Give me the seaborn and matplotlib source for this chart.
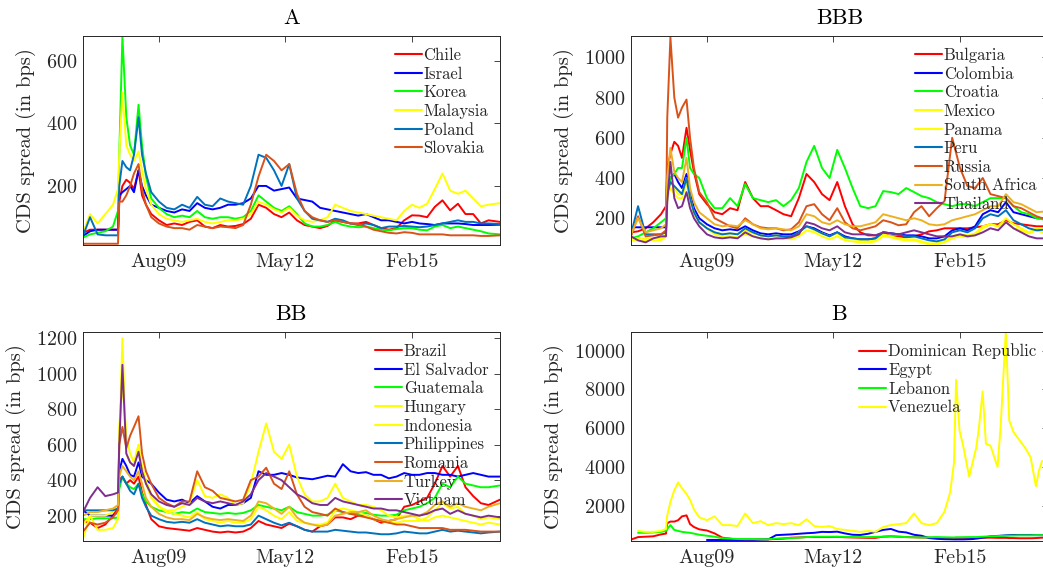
import numpy as np
import pandas as pd
import matplotlib
matplotlib.use("Agg")
import matplotlib.pyplot as plt
import matplotlib.dates as mdates
from matplotlib.lines import Line2D
import seaborn as sns

nan = np.nan

# ---------------- data ----------------
dates = ["2007-12-07", "2008-02-01", "2008-04-01", "2008-06-01", "2008-08-01", "2008-09-10", "2008-09-20", "2008-10-15", "2008-11-15", "2008-12-15",
         "2009-01-15", "2009-02-20", "2009-03-20", "2009-04-20", "2009-06-01", "2009-08-01", "2009-10-01", "2009-12-01", "2010-02-01", "2010-04-01",
         "2010-06-01", "2010-08-01", "2010-10-01", "2010-12-01", "2011-02-01", "2011-04-01", "2011-06-01", "2011-08-01", "2011-10-01", "2011-12-01",
         "2012-02-01", "2012-04-01", "2012-06-01", "2012-08-01", "2012-10-01", "2012-12-01", "2013-02-01", "2013-04-01", "2013-06-01", "2013-08-01",
         "2013-10-01", "2013-12-01", "2014-02-01", "2014-04-01", "2014-06-01", "2014-08-01", "2014-10-01", "2014-12-01", "2015-02-01", "2015-04-01",
         "2015-06-01", "2015-08-01", "2015-10-01", "2015-12-01", "2016-02-01", "2016-04-01", "2016-06-01", "2016-08-01", "2016-10-01", "2016-12-31"]

dates_b = dates[:46] + ["2014-10-01", "2014-11-15", "2014-12-15", "2015-01-01", "2015-01-28", "2015-03-01", "2015-04-15", "2015-05-15",
                        "2015-06-10", "2015-07-01", "2015-07-31", "2015-08-26", "2015-10-01", "2015-11-26", "2015-12-20", "2016-01-31",
                        "2016-02-27", "2016-04-01", "2016-05-16", "2016-07-01", "2016-08-15", "2016-09-26", "2016-10-20", "2016-11-13",
                        "2016-12-31"]

# Panel A
chile = [50, 60, 60, 60, 60, 60, 150, 200, 220, 210,
         190, 250, 170, 140, 110, 90, 75, 80, 75, 85,
         90, 70, 65, 75, 70, 72, 78, 95, 140, 130,
         110, 100, 115, 90, 75, 70, 65, 72, 90, 85,
         80, 80, 85, 75, 65, 60, 65, 90, 106, 105,
         100, 133, 154, 122, 143, 110, 110, 80, 90, 85]
israel = [40, 55, 60, 60, 60, 60, 170, 180, 190, 200,
          180, 250, 200, 170, 140, 130, 120, 115, 125, 120,
          145, 130, 125, 130, 140, 140, 145, 160, 200, 200,
          185, 190, 195, 160, 155, 150, 130, 125, 120, 115,
          110, 105, 110, 100, 90, 90, 85, 80, 85, 80,
          78, 75, 80, 80, 80, 78, 75, 75, 75, 76]
korea = [35, 45, 50, 55, 70, 120, 300, 680, 420, 330,
         300, 460, 330, 230, 160, 130, 110, 100, 105, 100,
         120, 100, 95, 100, 100, 95, 100, 120, 170, 150,
         130, 120, 135, 110, 80, 70, 70, 75, 85, 75,
         70, 68, 70, 65, 60, 58, 62, 65, 65, 60,
         58, 70, 75, 65, 70, 65, 60, 55, 48, 45]
malaysia = [50, 110, 80, 110, 140, 190, 300, 500, 330, 300,
            280, 310, 250, 190, 140, 110, 95, 90, 85, 90,
            95, 85, 80, 85, 90, 90, 95, 110, 150, 140,
            125, 115, 130, 105, 90, 85, 90, 100, 140, 130,
            120, 115, 110, 105, 100, 95, 90, 120, 140, 130,
            143, 190, 240, 185, 175, 185, 160, 135, 140, 145]
poland = [40, 100, 45, 42, 42, 42, 200, 280, 260, 250,
          300, 420, 300, 240, 180, 150, 130, 125, 140, 130,
          165, 140, 135, 160, 150, 145, 140, 200, 300, 290,
          250, 200, 270, 160, 120, 95, 90, 85, 95, 90,
          80, 75, 80, 75, 65, 70, 70, 72, 70, 68,
          70, 75, 80, 85, 90, 85, 85, 80, 80, 78]
slovakia = [15, 15, 15, 15, 15, 15, 150, 150, 170, 200,
            240, 270, 190, 140, 100, 80, 70, 65, 65, 60,
            75, 70, 65, 70, 68, 65, 75, 140, 230, 300,
            280, 250, 270, 175, 120, 100, 90, 85, 90, 85,
            80, 78, 70, 60, 55, 50, 48, 52, 50, 45,
            45, 45, 45, 42, 42, 42, 42, 40, 40, 42]

# Panel BBB
bulgaria = [130, 135, 150, 180, 220, 260, 450, 520, 580, 560,
            500, 650, 540, 430, 320, 270, 230, 220, 250, 240,
            380, 300, 260, 260, 240, 220, 210, 300, 420, 380,
            320, 290, 380, 260, 170, 130, 115, 115, 125, 110,
            110, 105, 110, 120, 135, 140, 150, 150, 150, 150,
            155, 160, 170, 170, 190, 175, 170, 165, 160, 160]
colombia = [155, 155, 155, 155, 155, 155, 350, 400, 420, 380,
            350, 420, 330, 250, 200, 170, 150, 140, 145, 140,
            160, 140, 125, 120, 125, 120, 120, 135, 160, 150,
            130, 115, 130, 110, 100, 95, 95, 100, 130, 125,
            120, 115, 115, 110, 100, 100, 110, 140, 150, 140,
            160, 220, 240, 230, 280, 230, 220, 210, 200, 200]
croatia = [100, 110, 130, 150, 180, 200, 350, 400, 420, 450,
           450, 600, 450, 420, 400, 300, 250, 250, 300, 260,
           370, 300, 290, 280, 290, 260, 290, 350, 480, 560,
           450, 400, 540, 450, 350, 260, 250, 260, 335, 330,
           320, 350, 330, 310, 300, 280, 270, 260, 270, 270,
           260, 280, 300, 300, 300, 260, 230, 220, 200, 190]
mexico = [100, 100, 100, 100, 100, 120, 300, 380, 350, 320,
          320, 400, 300, 230, 180, 150, 130, 120, 125, 120,
          140, 125, 115, 110, 115, 110, 105, 130, 160, 140,
          125, 110, 125, 100, 95, 90, 85, 90, 120, 110,
          100, 95, 95, 85, 75, 75, 85, 110, 120, 115,
          125, 160, 170, 160, 180, 150, 140, 125, 140, 120]
panama = [90, 90, 90, 90, 90, 110, 300, 350, 320, 300,
          300, 380, 290, 220, 180, 150, 120, 110, 110, 105,
          120, 110, 100, 95, 100, 100, 95, 110, 140, 130,
          110, 95, 110, 90, 85, 80, 80, 85, 110, 105,
          95, 90, 90, 80, 70, 70, 80, 100, 110, 105,
          115, 150, 170, 160, 200, 170, 150, 130, 150, 140]
peru = [120, 260, 120, 120, 120, 130, 320, 380, 360, 340,
        320, 400, 300, 230, 180, 150, 130, 120, 125, 120,
        150, 130, 115, 110, 115, 110, 110, 130, 160, 145,
        125, 110, 130, 105, 100, 95, 95, 100, 130, 125,
        120, 110, 110, 100, 90, 85, 95, 130, 140, 130,
        150, 200, 220, 210, 240, 190, 170, 150, 140, 145]
russia = [110, 210, 110, 115, 120, 140, 700, 1100, 800, 700,
          750, 790, 600, 450, 330, 280, 200, 180, 160, 150,
          200, 170, 155, 150, 150, 140, 145, 180, 260, 270,
          220, 190, 250, 180, 150, 140, 150, 160, 190, 180,
          165, 170, 230, 260, 210, 250, 285, 600, 450, 360,
          350, 400, 320, 310, 300, 260, 250, 230, 210, 190]
south_africa = [120, 200, 130, 140, 150, 170, 400, 550, 430, 400,
                380, 500, 350, 280, 230, 200, 170, 160, 165, 160,
                190, 170, 150, 145, 150, 145, 140, 160, 220, 210,
                180, 170, 190, 170, 160, 160, 170, 180, 220, 210,
                200, 190, 200, 190, 170, 165, 170, 190, 200, 210,
                220, 240, 260, 260, 320, 280, 270, 250, 230, 235]
thailand = [110, 90, 80, 100, 110, 110, 280, 480, 300, 250,
            260, 330, 250, 200, 160, 120, 105, 100, 105, 100,
            130, 110, 100, 95, 100, 100, 105, 120, 180, 170,
            150, 140, 160, 130, 120, 120, 120, 115, 130, 125,
            120, 130, 140, 130, 120, 110, 110, 110, 120, 110,
            115, 130, 150, 140, 180, 150, 130, 110, 100, 100]

# Panel BB
brazil = [170, 160, 130, 150, 200, 250, 400, 420, 380, 400,
          380, 420, 330, 260, 180, 140, 130, 125, 120, 115,
          130, 120, 110, 105, 110, 105, 110, 130, 170, 150,
          140, 130, 155, 140, 120, 110, 140, 150, 190, 190,
          180, 200, 200, 180, 160, 170, 180, 250, 260, 280,
          300, 380, 480, 420, 480, 360, 310, 270, 260, 290]
el_salvador = [230, 200, 200, 200, 200, 220, 450, 520, 480, 430,
               420, 500, 420, 400, 380, 330, 290, 280, 290, 270,
               310, 280, 250, 240, 260, 260, 270, 300, 450, 430,
               430, 440, 430, 415, 410, 405, 415, 425, 420, 490,
               450, 440, 445, 430, 430, 410, 420, 440, 430, 430,
               440, 440, 430, 430, 420, 430, 440, 430, 420, 420]
guatemala = [180, 180, 185, 185, 185, 190, 350, 420, 380, 360,
             350, 380, 320, 280, 250, 230, 220, 210, 220, 215,
             240, 220, 215, 210, 215, 210, 215, 230, 260, 250,
             240, 230, 250, 220, 210, 200, 200, 205, 230, 220,
             210, 210, 215, 205, 200, 200, 205, 230, 240, 250,
             270, 300, 380, 360, 420, 380, 370, 360, 360, 370]
hungary = [70, 200, 120, 120, 130, 180, 600, 1200, 550, 500,
           480, 600, 450, 380, 300, 250, 230, 230, 250, 270,
           400, 310, 300, 320, 300, 260, 270, 380, 560, 720,
           560, 520, 600, 420, 320, 280, 280, 300, 380, 300,
           280, 260, 260, 250, 230, 200, 190, 200, 200, 180,
           170, 190, 200, 190, 180, 170, 160, 150, 160, 150]
indonesia = [150, 200, 200, 200, 220, 260, 700, 950, 650, 550,
             500, 600, 480, 400, 320, 250, 220, 210, 200, 190,
             220, 180, 170, 160, 170, 160, 160, 180, 250, 230,
             200, 180, 220, 170, 160, 150, 150, 160, 230, 240,
             230, 220, 200, 180, 170, 160, 160, 170, 170, 170,
             190, 230, 270, 240, 250, 210, 200, 180, 190, 180]
philippines = [230, 230, 230, 230, 230, 240, 380, 420, 380, 340,
               320, 380, 300, 250, 200, 180, 165, 160, 165, 160,
               180, 160, 150, 140, 145, 140, 140, 150, 200, 180,
               160, 145, 160, 140, 120, 110, 110, 110, 120, 115,
               110, 105, 105, 100, 95, 95, 100, 110, 105, 100,
               100, 110, 120, 110, 115, 110, 105, 100, 105, 110]
romania = [110, 160, 150, 160, 190, 230, 600, 700, 580, 650,
           700, 760, 550, 450, 380, 300, 270, 250, 280, 280,
           450, 360, 340, 300, 290, 280, 290, 400, 420, 470,
           380, 350, 450, 320, 250, 220, 210, 200, 240, 220,
           210, 200, 190, 180, 170, 160, 150, 150, 140, 130,
           130, 130, 130, 120, 120, 120, 115, 110, 110, 110]
turkey = [200, 220, 220, 230, 240, 260, 420, 480, 450, 420,
          400, 450, 380, 300, 250, 210, 190, 180, 180, 175,
          210, 190, 180, 175, 180, 175, 170, 200, 280, 270,
          240, 210, 250, 190, 160, 150, 140, 150, 200, 210,
          220, 220, 230, 200, 180, 170, 180, 190, 200, 200,
          220, 260, 280, 250, 270, 250, 240, 230, 250, 270]
vietnam = [220, 300, 360, 310, 320, 330, 600, 1050, 550, 500,
           480, 560, 450, 380, 320, 280, 260, 250, 270, 260,
           300, 280, 270, 280, 270, 260, 280, 320, 400, 440,
           420, 400, 360, 320, 300, 270, 260, 260, 300, 280,
           270, 260, 250, 240, 240, 230, 230, 220, 210, 200,
           210, 230, 240, 210, 230, 210, 200, 190, 200, 190]

# Panel B (on dates_b)
dominican = [250, 380, 400, 420, 520, 560, 1100, 1180, 1180, 1250,
             1450, 1500, 1050, 900, 780, 720, 570, 350, 300, 250,
             250, 250, 260, 260, 280, 300, 350, 360, 380, 380,
             380, 380, 390, 370, 360, 350, 340, 340, 400, 420,
             400, 380, 370, 360, 350, 340,
             330, 330, 330, 340, 340, 340, 340, 340, 340, 350,
             350, 350, 350, 340, 340, 340, 330, 330, 320, 320,
             320, 330, 340, 350, 350]
egypt = [nan] * 15 + [230, 230, 230, 230, 230, 240, 240, 250, 260, 480,
                      500, 520, 550, 580, 600, 650, 640, 660, 570, 500,
                      490, 550, 650, 750, 800, 660, 620, 500, 450, 330, 290,
                      270, 265, 260, 260, 260, 260, 270, 280, 300, 320,
                      350, 370, 420, 440, 450, 470, 480, 490, 490, 490,
                      490, 480, 480, 480, 480]
lebanon = [nan, 600, 600, 620, 650, 700, 800, 1000, 750, 700,
           650, 620, 600, 560, 500, 450, 400, 320, 300, 280,
           280, 280, 270, 270, 300, 320, 330, 350, 380, 400,
           400, 400, 400, 390, 380, 380, 380, 390, 400, 420,
           400, 380, 370, 360, 370, 380,
           370, 365, 360, 370, 370, 375, 380, 380, 380, 390,
           400, 410, 420, 430, 440, 450, 455, 460, 470, 470,
           470, 480, 480, 480, 480]
venezuela = [nan, 700, 650, 650, 700, 800, 1500, 2200, 2800, 3200,
             2900, 2600, 2300, 1800, 1400, 1250, 1450, 1000, 1000, 950,
             1600, 1100, 1200, 1000, 1100, 1050, 1100, 1000, 1300, 950,
             900, 950, 800, 750, 700, 650, 700, 650, 900, 1000,
             1050, 1100, 1600, 1100, 1000, 1100,
             1700, 2700, 4200, 8500, 5900, 5000, 3500, 4300, 5000, 6000,
             7900, 5200, 5100, 4000, 6000, 11000, 6400, 5800, 5400, 5000,
             4500, 3000, 3800, 4300, 4300]

# ---------------- style ----------------
RED, BLUE, GREEN, YELLOW = "#ff0000", "#0000ff", "#00ff00", "#ffff00"
MBLUE, MORANGE, MGOLD, MPURPLE = "#0072bd", "#d95319", "#edb120", "#7e2f8e"
AXC = "#262626"

sns.set_theme(style="white")
plt.rcParams.update({
    "font.family": ["cmr10", "DejaVu Serif"],
    "axes.formatter.use_mathtext": True,
    "mathtext.fontset": "cm",
    "axes.unicode_minus": False,
})

panels = [
    dict(title="A", dates=dates,
         names=["Chile", "Israel", "Korea", "Malaysia", "Poland", "Slovakia"],
         values=[chile, israel, korea, malaysia, poland, slovakia],
         colors=[RED, BLUE, GREEN, YELLOW, MBLUE, MORANGE],
         ylim=(11, 680), yticks=[200, 400, 600],
         pos=[83, 36]),
    dict(title="BBB", dates=dates,
         names=["Bulgaria", "Colombia", "Croatia", "Mexico", "Panama", "Peru", "Russia", "South Africa", "Thailand"],
         values=[bulgaria, colombia, croatia, mexico, panama, peru, russia, south_africa, thailand],
         colors=[RED, BLUE, GREEN, YELLOW, YELLOW, MBLUE, MORANGE, MGOLD, MPURPLE],
         ylim=(67, 1106), yticks=[200, 400, 600, 800, 1000],
         pos=[631, 36]),
    dict(title="BB", dates=dates,
         names=["Brazil", "El Salvador", "Guatemala", "Hungary", "Indonesia", "Philippines", "Romania", "Turkey", "Vietnam"],
         values=[brazil, el_salvador, guatemala, hungary, indonesia, philippines, romania, turkey, vietnam],
         colors=[RED, BLUE, GREEN, YELLOW, YELLOW, MBLUE, MORANGE, MGOLD, MPURPLE],
         ylim=(57, 1235), yticks=[200, 400, 600, 800, 1000, 1200],
         pos=[83, 332]),
    dict(title="B", dates=dates_b,
         names=["Dominican Republic", "Egypt", "Lebanon", "Venezuela"],
         values=[dominican, egypt, lebanon, venezuela],
         colors=[RED, BLUE, GREEN, YELLOW],
         ylim=(178, 10965), yticks=[2000, 4000, 6000, 8000, 10000],
         pos=[631, 332]),
]

W, H = 1043, 574
fig = plt.figure(figsize=(W / 100, H / 100), dpi=100)
fig.patch.set_facecolor("white")

xmin, xmax = pd.Timestamp("2007-12-07"), pd.Timestamp("2016-12-31")
xticks = [pd.Timestamp("2009-08-01"), pd.Timestamp("2012-05-01"), pd.Timestamp("2015-02-01")]

for p in panels:
    x0, y0 = p["pos"]
    ax = fig.add_axes([x0 / W, 1 - (y0 + 209) / H, 417 / W, 209 / H])
    frames = []
    for name, vals in zip(p["names"], p["values"]):
        frames.append(pd.DataFrame({"date": pd.to_datetime(p["dates"]), "value": vals, "country": name}))
    df = pd.concat(frames, ignore_index=True).dropna()
    pal = dict(zip(p["names"], p["colors"]))
    sns.lineplot(data=df, x="date", y="value", hue="country", hue_order=p["names"],
                 palette=pal, estimator=None, linewidth=1.4, legend=False, ax=ax)
    ax.set_xlim(xmin, xmax)
    ax.set_ylim(*p["ylim"])
    ax.set_yticks(p["yticks"])
    ax.set_xticks(xticks)
    ax.xaxis.set_major_formatter(mdates.DateFormatter("%b%y"))
    ax.set_xlabel("")
    ax.set_ylabel("CDS spread (in bps)", fontsize=14.8, color=AXC, labelpad=7)
    ax.set_title(p["title"], fontsize=16, color="black", pad=9)
    ax.tick_params(direction="in", length=4, width=0.6, top=True, right=True,
                   labelsize=14.5, pad=4, colors=AXC)
    ax.tick_params(axis="x", pad=6)
    for s in ax.spines.values():
        s.set_color(AXC)
        s.set_linewidth(0.7)
    ax.grid(False)
    handles = [Line2D([0], [0], color=c, lw=1.5) for c in p["colors"]]
    ax.legend(handles, p["names"], loc="upper right", frameon=False, fontsize=12,
              handlelength=1.6, handletextpad=0.12, labelspacing=0.2,
              borderaxespad=0.45, borderpad=0.25)

fig.savefig("out.png", dpi=100)
